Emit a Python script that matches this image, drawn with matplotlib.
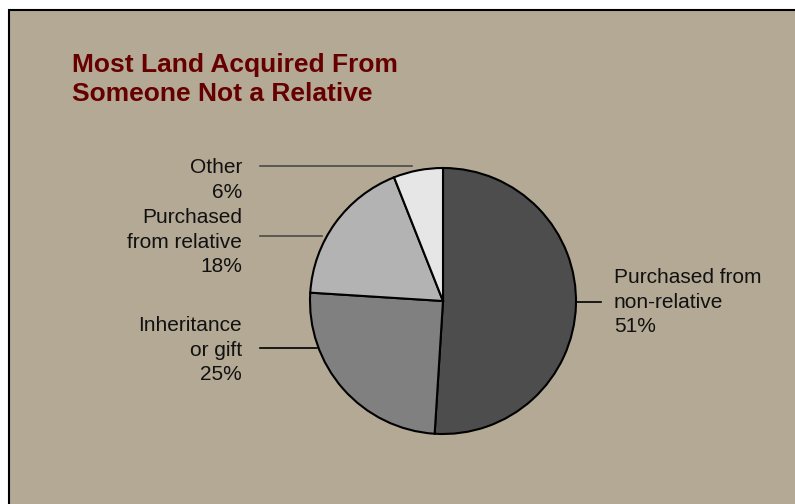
import matplotlib
matplotlib.use("Agg")
import matplotlib.pyplot as plt
from matplotlib.patches import Rectangle

categories = ["Purchased from\nnon-relative", "Inheritance\nor gift", "Purchased\nfrom relative", "Other"]
values = [51, 25, 18, 6]
colors = ["#4d4d4d", "#808080", "#b3b3b3", "#e6e6e6"]
title = "Most Land Acquired From\nSomeone Not a Relative"

W, H = 795, 504
fig = plt.figure(figsize=(W / 100, H / 100), dpi=100)
fig.patch.set_facecolor("white")
ax = fig.add_axes([0, 0, 1, 1])

bg = Rectangle((9, -5), W, H - 10 + 5, facecolor="#b3a995", edgecolor="black", linewidth=1.5, zorder=0)
ax.add_patch(bg)

cx, cy, r = 443, H - 301, 133
ax.pie(values, colors=colors, startangle=90, counterclock=False, center=(cx, cy), radius=r,
       wedgeprops=dict(edgecolor="black", linewidth=1.5), frame=True)
ax.set_xlim(0, W)
ax.set_ylim(0, H)
ax.set_aspect("equal")
ax.axis("off")

font = ["Liberation Sans", "DejaVu Sans"]
ax.text(72, H - 79.5, title, fontsize=19, fontweight="bold", color="#660000", family=font,
        ha="left", va="center", linespacing=1.28)

labels = [f"{c}\n{v}%" for c, v in zip(categories, values)]
# label layout: (x, y_px, ha)
layout = [(614, 302, "left"), (242, 350, "right"), (242, 242, "right"), (242, 180, "right")]
lines = [((576, 601), 302, "black"), ((260, 317), 348, "black"), ((260, 322), 236, "#4a4a4a"), ((260, 412), 166, "#4a4a4a")]
for lab, (x, y, ha), (xs, ly, lc) in zip(labels, layout, lines):
    ax.text(x, H - y, lab, fontsize=15, color="#111111", family=font, ha=ha, va="center", linespacing=1.36)
    ax.plot(xs, [H - ly, H - ly], color=lc, linewidth=1.2, zorder=1)

fig.savefig("out.png", dpi=100, facecolor=fig.get_facecolor())
